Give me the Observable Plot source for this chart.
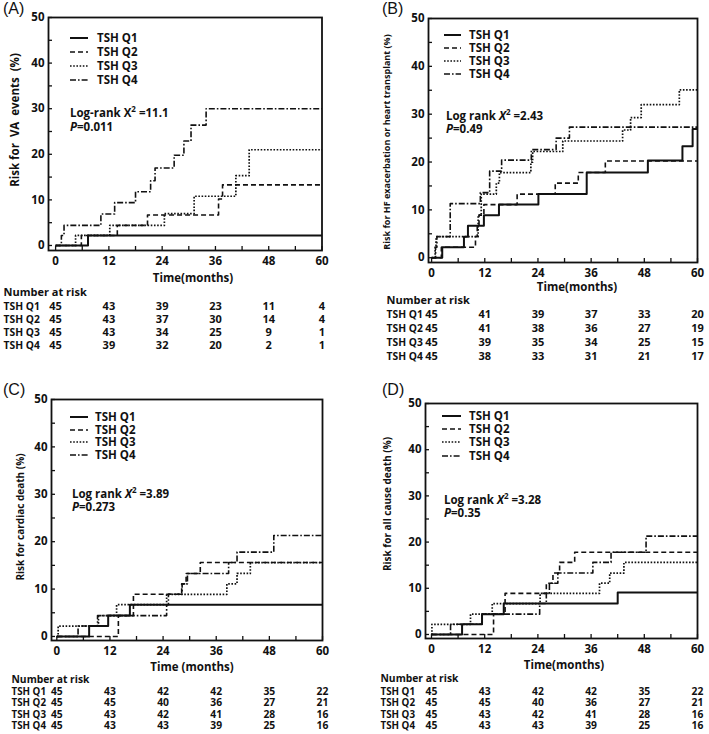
<!DOCTYPE html>
<html>
<head>
<meta charset="utf-8">
<script src="https://cdn.jsdelivr.net/npm/d3@7"></script>
<script src="https://cdn.jsdelivr.net/npm/@observablehq/plot@0.6"></script>
<style>
html,body{margin:0;padding:0;background:#fff;}
#fig{position:relative;width:709px;height:734px;overflow:hidden;font-family:"Open Sans",sans-serif;color:#111;}
.panel{position:absolute;}
.panel > svg{position:absolute;left:0;top:0;overflow:visible}
.tag{position:absolute;font-family:"Liberation Sans",Arial,sans-serif;font-size:16px;line-height:16px;white-space:nowrap}
.txt{position:absolute;font-weight:700;font-size:11.5px;line-height:12px;white-space:nowrap;transform:translateY(-50%)}
.txt sup{font-size:8px;line-height:0;vertical-align:5px}
.ytitle{position:absolute;font-weight:700;white-space:nowrap;line-height:12px;transform:translate(-50%,-50%) rotate(-90deg)}
.xtitle{position:absolute;font-weight:700;font-size:11.5px;line-height:12px;white-space:nowrap;transform:translate(-50%,-50%)}
.sw{position:absolute}
</style>
</head>
<body>
<div id="fig"></div>
<script>
// ---------- shared labels / ticks ----------
const groups = ["TSH Q1", "TSH Q2", "TSH Q3", "TSH Q4"];
const riskMonths = [0, 12, 24, 36, 48, 60];
const yTickValues = [0, 10, 20, 30, 40, 50];
const yMinorTicks = [0, 5, 10, 15, 20, 25, 30, 35, 40, 45, 50];
const xTickValues = [0, 12, 24, 36, 48, 60];
const xMinorTicks = [0, 6, 12, 18, 24, 30, 36, 42, 48, 54, 60];

// ---------- (A) VA events: [month, risk %] ----------
const vaQ1 = [[0,0],[7.3,2.2],[60,2.2]];
const vaQ2 = [[0,0],[5.8,2.2],[13.9,4.4],[20.7,6.7],[36.7,10.2],[37.6,13.3],[60,13.3]];
const vaQ3 = [[0,0],[4.5,2.2],[12.2,4.4],[24.5,7.0],[31.2,10.8],[40.6,15.3],[43.6,21.0],[60,21.0]];
const vaQ4 = [[0,0],[1.3,2.2],[1.9,4.4],[10.2,6.9],[13.3,9.4],[18.0,11.8],[21.4,14.2],[22.4,17.0],[26.7,19.8],[28.9,22.9],[30.5,26.4],[33.9,30.0],[60,30.0]];
const vaRiskQ1 = [45, 43, 39, 23, 11, 4];
const vaRiskQ2 = [45, 43, 37, 30, 14, 4];
const vaRiskQ3 = [45, 43, 34, 25, 9, 1];
const vaRiskQ4 = [45, 39, 32, 20, 2, 1];

// ---------- (B) HF exacerbation or heart transplant ----------
const hfQ1 = [[0,0],[2.4,2.2],[7.3,4.4],[8.2,6.7],[11.8,8.9],[15.2,11.1],[24.1,13.3],[35.0,17.8],[48.8,20.3],[56.6,23.3],[58.9,26.9],[60,26.9]];
const hfQ2 = [[0,0],[2.2,2.2],[9.9,4.4],[10.3,6.7],[10.7,8.9],[11.8,11.1],[19.3,13.3],[27.9,15.6],[33.1,17.8],[39.2,20.2],[60,20.2]];
const hfQ3 = [[0,0],[0.8,2.2],[1.0,4.4],[10.5,8.9],[11.2,13.3],[14.6,15.6],[15.3,17.8],[22.4,20.0],[22.8,22.2],[29.6,24.4],[43.1,26.7],[44.9,29.3],[47.3,32.0],[55.9,35.1],[60,35.1]];
const hfQ4 = [[0,0],[0.9,2.2],[1.2,4.4],[4.2,11.3],[11.0,13.6],[13.1,18.1],[15.8,20.4],[22.5,22.6],[28.1,25.0],[31.1,27.3],[60,27.3]];
const hfRiskQ1 = [45, 41, 39, 37, 33, 20];
const hfRiskQ2 = [45, 41, 38, 36, 27, 19];
const hfRiskQ3 = [45, 39, 35, 34, 25, 15];
const hfRiskQ4 = [45, 38, 33, 31, 21, 17];

// ---------- (C) cardiac death ----------
const cdQ1 = [[0,0],[7.3,2.2],[11.6,4.4],[16.5,6.7],[60,6.7]];
const cdQ2 = [[0,0],[13.9,4.4],[17.3,8.9],[28.2,11.1],[29.2,13.3],[32.4,15.6],[60,15.6]];
const cdQ3 = [[0,0],[0.3,2.2],[9.4,4.4],[13.5,6.7],[24.8,8.9],[38.4,11.1],[40.7,13.3],[43.7,15.6],[60,15.6]];
const cdQ4 = [[0,0],[4.8,2.2],[9.2,4.4],[24.8,6.7],[25.2,8.9],[28.3,11.1],[29.5,13.3],[38.8,15.6],[40.7,17.8],[49.0,21.3],[60,21.3]];
const cdRiskQ1 = [45, 43, 42, 42, 35, 22];
const cdRiskQ2 = [45, 45, 40, 36, 27, 21];
const cdRiskQ3 = [45, 43, 42, 41, 28, 16];
const cdRiskQ4 = [45, 43, 43, 39, 25, 16];

// ---------- (D) all cause death ----------
const acQ1 = [[0,0],[6.9,2.2],[11.4,4.4],[16.3,6.7],[42.0,9.1],[60,9.1]];
const acQ2 = [[0,0],[14.0,4.4],[16.6,8.9],[25.9,11.1],[27.4,13.3],[28.9,15.6],[32.3,17.8],[60,17.8]];
const acQ3 = [[0,0],[0.1,2.2],[8.8,4.4],[13.7,6.7],[24.5,8.9],[37.9,11.1],[40.2,13.3],[43.4,15.6],[60,15.6]];
const acQ4 = [[0,0],[4.3,2.2],[11.4,4.4],[24.4,6.7],[25.9,8.9],[26.6,11.1],[28.5,13.3],[36.4,15.6],[40.5,17.8],[48.4,21.3],[60,21.3]];
const acRiskQ1 = [45, 43, 42, 42, 35, 22];
const acRiskQ2 = [45, 45, 40, 36, 27, 21];
const acRiskQ3 = [45, 43, 42, 41, 28, 16];
const acRiskQ4 = [45, 43, 43, 39, 25, 16];

// ---------- line styles ----------
const lineStyles = [
  {w: 2.0, dash: null},
  {w: 1.6, dash: "5,3"},
  {w: 1.7, dash: "1.6,1.6"},
  {w: 1.6, dash: "6,2,1.6,2"}
];

const panels = [
  {tag: "(A)", left: 0, top: 0, width: 354, height: 360, mL: 48, mR: 32.5, mT: 17, fb: 250,
   xd: [-1.6, 60], yd: [-1.1, 50], curves: [vaQ1, vaQ2, vaQ3, vaQ4], risk: [vaRiskQ1, vaRiskQ2, vaRiskQ3, vaRiskQ4],
   ytitle: "Risk for&nbsp; VA&nbsp; events&nbsp; (%)", ytSize: 11.5, ytX: 15, ytY: 120,
   xtitle: "Time(months)", xtX: 193, xtY: 278, tagX: 3, tagY: 1,
   leg: {x1: 70, x2: 88, tx: 97, ys: [38, 52, 66, 80]},
   stat: {x: 70, y1: 113, y2: 127, l1: "Log-rank X<sup>2</sup> =11.1", l2: "<i>P</i>=0.011"},
   table: {labelX: 3, nar: 42, rows: [56, 69, 82, 95], fs: 11, ls: 10.3}},
  {tag: "(B)", left: 354, top: 0, width: 355, height: 370, mL: 74, mR: 12, mT: 18, fb: 262,
   xd: [-0.7, 60], yd: [-1.0, 50], curves: [hfQ1, hfQ2, hfQ3, hfQ4], risk: [hfRiskQ1, hfRiskQ2, hfRiskQ3, hfRiskQ4],
   ytitle: "Risk for HF exacerbation or heart transplant (%)", ytSize: 9, ytX: 33, ytY: 142,
   xtitle: "Time(months)", xtX: 223, xtY: 287, tagX: 28, tagY: 1,
   leg: {x1: 90, x2: 107, tx: 115, ys: [35, 48, 61, 74]},
   stat: {x: 92, y1: 116, y2: 129, l1: "Log rank <i>X</i><sup>2</sup> =2.43", l2: "<i>P</i>=0.49"},
   table: {labelX: 32, nar: 38, rows: [52, 66, 80, 94], fs: 11, ls: 10.3}},
  {tag: "(C)", left: 0, top: 360, width: 354, height: 374, mL: 51, mR: 32, mT: 39, fb: 280,
   xd: [-1.2, 60], yd: [-0.85, 50], curves: [cdQ1, cdQ2, cdQ3, cdQ4], risk: [cdRiskQ1, cdRiskQ2, cdRiskQ3, cdRiskQ4],
   ytitle: "Risk for cardiac death (%)", ytSize: 10, ytX: 20, ytY: 157,
   xtitle: "Time (months)", xtX: 192, xtY: 307, tagX: 3, tagY: 22,
   leg: {x1: 70, x2: 88, tx: 95, ys: [57, 70, 82, 95]},
   stat: {x: 72, y1: 134, y2: 147, l1: "Log rank <i>X</i><sup>2</sup> =3.89", l2: "<i>P</i>=0.273"},
   table: {labelX: 11, nar: 39.5, rows: [51, 62.5, 74, 85.5], fs: 10.3, ls: 9.8}},
  {tag: "(D)", left: 354, top: 360, width: 355, height: 374, mL: 71, mR: 12, mT: 43, fb: 278,
   xd: [-1.35, 60], yd: [-0.87, 50], curves: [acQ1, acQ2, acQ3, acQ4], risk: [acRiskQ1, acRiskQ2, acRiskQ3, acRiskQ4],
   ytitle: "Risk for all cause death (%)", ytSize: 10, ytX: 33, ytY: 144,
   xtitle: "Time(months)", xtX: 210, xtY: 305, tagX: 28, tagY: 22,
   leg: {x1: 88, x2: 107, tx: 115, ys: [56, 69, 82, 96]},
   stat: {x: 90, y1: 140, y2: 153, l1: "Log rank <i>X</i><sup>2</sup> =3.28", l2: "<i>P</i>=0.35"},
   table: {labelX: 26, nar: 40, rows: [53, 64.5, 76, 87.5], fs: 10.3, ls: 9.8}}
];

const fig = document.getElementById("fig");

for (const p of panels) {
  const div = document.createElement("div");
  div.className = "panel";
  div.style.left = p.left + "px";
  div.style.top = p.top + "px";
  div.style.width = p.width + "px";
  div.style.height = p.height + "px";
  fig.appendChild(div);

  const plotW = p.width - p.mL - p.mR;
  const plotH = p.fb - p.mT;

  const marks = [];
  // curves
  p.curves.forEach((c, i) => {
    marks.push(Plot.line(c, {
      x: d => d[0], y: d => d[1], curve: "step-after",
      stroke: "#111", strokeWidth: lineStyles[i].w,
      strokeDasharray: lineStyles[i].dash, strokeLinecap: "butt"
    }));
  });
  // inward tick marks (no text)
  marks.push(Plot.gridY(yMinorTicks, {stroke: "#111", strokeOpacity: 1, strokeWidth: 1.3, insetRight: plotW - 4}));
  marks.push(Plot.gridX(xMinorTicks, {stroke: "#111", strokeOpacity: 1, strokeWidth: 1.3, insetTop: plotH - 4}));
  // axis labels
  marks.push(Plot.axisY({ticks: yTickValues, tickSize: 0, tickPadding: 4, label: null}));
  marks.push(Plot.axisX({ticks: xTickValues, tickSize: 0, tickPadding: 6, label: null}));
  marks.push(Plot.frame({stroke: "#111", strokeWidth: 1.8}));
  // number at risk table
  marks.push(Plot.text(["Number at risk"], {frameAnchor: "bottom-left", dx: p.table.labelX - p.mL, dy: p.table.nar, textAnchor: "start", lineAnchor: "middle", fontSize: p.table.fs}));
  p.risk.forEach((arr, i) => {
    marks.push(Plot.text([groups[i]], {frameAnchor: "bottom-left", dx: p.table.labelX - p.mL, dy: p.table.rows[i], textAnchor: "start", lineAnchor: "middle", fontSize: p.table.ls}));
    marks.push(Plot.text(riskMonths, {x: d => d, text: (d, j) => arr[j], frameAnchor: "bottom", dy: p.table.rows[i], lineAnchor: "middle", fontSize: p.table.fs}));
  });

  const svg = Plot.plot({
    width: p.width, height: p.height,
    marginLeft: p.mL, marginRight: p.mR, marginTop: p.mT, marginBottom: p.height - p.fb,
    x: {domain: p.xd},
    y: {domain: p.yd},
    style: {fontFamily: "'Open Sans', sans-serif", fontSize: "11.5px", fontWeight: "bold", color: "#111", background: "transparent", overflow: "visible"},
    marks
  });
  div.appendChild(svg);

  // panel tag
  const tag = document.createElement("div");
  tag.className = "tag";
  tag.style.left = p.tagX + "px"; tag.style.top = p.tagY + "px";
  tag.textContent = p.tag;
  div.appendChild(tag);

  // y title
  const yt = document.createElement("div");
  yt.className = "ytitle";
  yt.style.left = p.ytX + "px"; yt.style.top = p.ytY + "px"; yt.style.fontSize = p.ytSize + "px";
  yt.innerHTML = p.ytitle;
  div.appendChild(yt);

  // x title
  const xt = document.createElement("div");
  xt.className = "xtitle";
  xt.style.left = p.xtX + "px"; xt.style.top = p.xtY + "px";
  xt.textContent = p.xtitle;
  div.appendChild(xt);

  // legend
  groups.forEach((g, i) => {
    const y = p.leg.ys[i];
    const s = lineStyles[i];
    const sw = document.createElementNS("http://www.w3.org/2000/svg", "svg");
    sw.setAttribute("class", "sw");
    sw.setAttribute("width", p.leg.x2 - p.leg.x1);
    sw.setAttribute("height", 6);
    sw.style.left = p.leg.x1 + "px"; sw.style.top = (y - 3) + "px";
    sw.innerHTML = `<line x1="0" y1="3" x2="${p.leg.x2 - p.leg.x1}" y2="3" stroke="#111" stroke-width="${s.w}" ${s.dash ? `stroke-dasharray="${s.dash}"` : ""}/>`;
    div.appendChild(sw);
    const t = document.createElement("div");
    t.className = "txt";
    t.style.left = p.leg.tx + "px"; t.style.top = y + "px";
    t.textContent = g;
    div.appendChild(t);
  });

  // log-rank statistics
  const s1 = document.createElement("div");
  s1.className = "txt"; s1.style.left = p.stat.x + "px"; s1.style.top = p.stat.y1 + "px";
  s1.innerHTML = p.stat.l1;
  div.appendChild(s1);
  const s2 = document.createElement("div");
  s2.className = "txt"; s2.style.left = p.stat.x + "px"; s2.style.top = p.stat.y2 + "px";
  s2.innerHTML = p.stat.l2;
  div.appendChild(s2);
}
</script>
</body>
</html>
